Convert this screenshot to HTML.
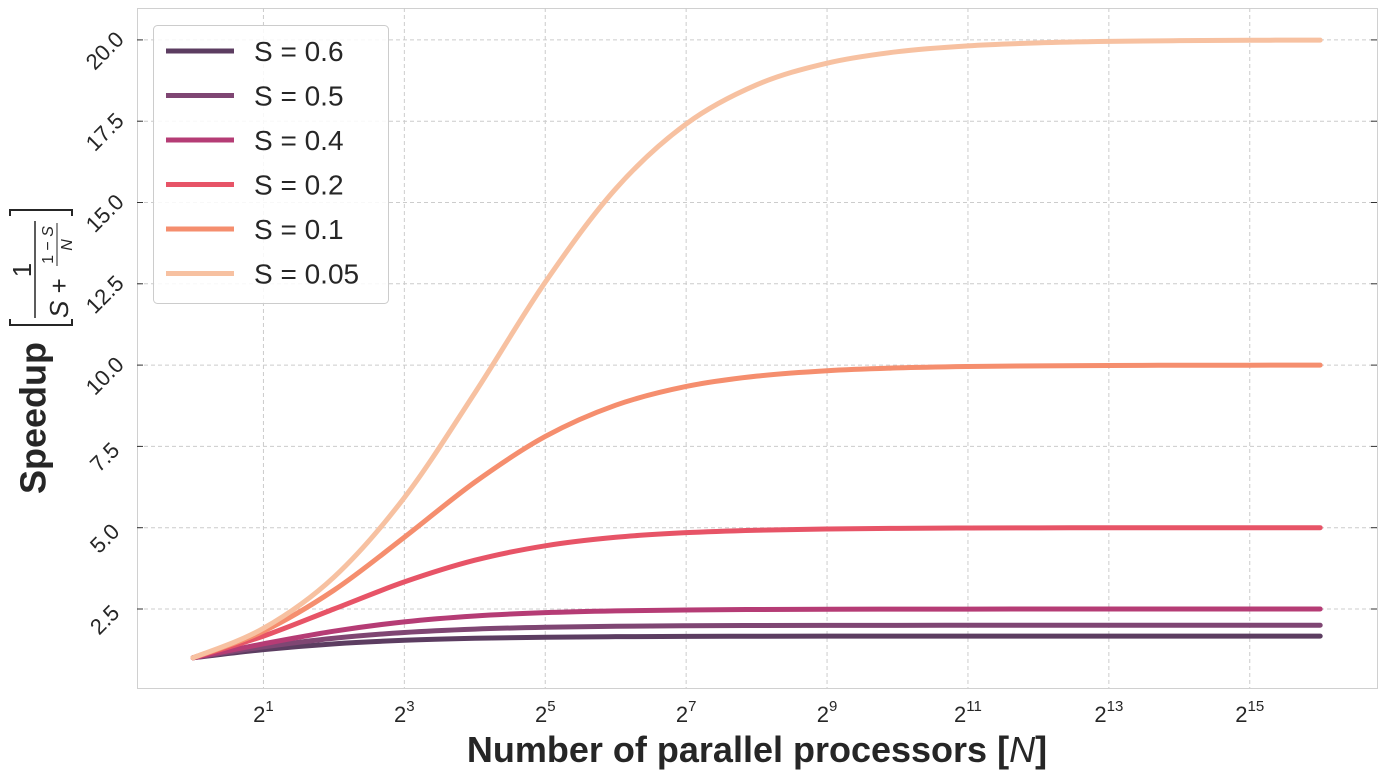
<!DOCTYPE html>
<html><head><meta charset="utf-8"><style>
body{margin:0;background:#fff;font-family:"Liberation Sans",sans-serif}
svg{display:block}
</style></head><body>
<svg id="chart" width="1387" height="780" xmlns="http://www.w3.org/2000/svg" font-family="Liberation Sans, DejaVu Sans, sans-serif">
<rect x="137.5" y="8.5" width="1240" height="680" fill="#fff" stroke="#d0d0d0"/>
<g id="grid"></g><g id="ticks"></g><g id="lines"></g>
<text x="757" y="762" text-anchor="middle" font-size="36" font-weight="bold" fill="#262626">Number of parallel processors [<tspan font-style="italic" font-weight="normal">N</tspan>]</text>
<g fill="#262626">
<text transform="translate(33,494) rotate(-90)" font-size="36" font-weight="bold" dominant-baseline="central">Speedup</text>
<path d="M10,319 L10,325 L72,325 L72,319 M10,216 L10,210 L72,210 L72,216" fill="none" stroke="#262626" stroke-width="2"/>
<text transform="translate(31,270) rotate(-90)" font-size="26" text-anchor="middle">1</text>
<line x1="35" y1="318" x2="35" y2="221" stroke="#262626" stroke-width="1.5"/>
<text transform="translate(68,318) rotate(-90)" font-size="26"><tspan font-style="italic">S</tspan> +</text>
<text transform="translate(53,245) rotate(-90)" font-size="16" text-anchor="middle">1 − <tspan font-style="italic">S</tspan></text>
<line x1="57" y1="266" x2="57" y2="223" stroke="#262626" stroke-width="1"/>
<text transform="translate(72,245) rotate(-90)" font-size="16" text-anchor="middle" font-style="italic">N</text>
</g>
<g id="legend">
<rect x="153.5" y="25.5" width="235" height="278" rx="4" fill="#fff" fill-opacity="0.85" stroke="#ccc"/>
</g>
</svg>
<script>
const exps=[0,1,2,3,4,5,6,7,8,9,10,11,12,13,14,15,16];
const labels=["S = 0.6","S = 0.5","S = 0.4","S = 0.2","S = 0.1","S = 0.05"];
const colors=["#5c3d61","#7f4673","#b53c75","#e75467","#f58e6e","#f7c1a1"];
const s06=[1,1.25,1.429,1.538,1.6,1.633,1.649,1.658,1.662,1.665,1.666,1.666,1.667,1.667,1.667,1.667,1.667];
const s05=[1,1.333,1.6,1.778,1.882,1.939,1.969,1.984,1.992,1.996,1.998,1.999,2,2,2,2,2];
const s04=[1,1.429,1.818,2.105,2.286,2.388,2.443,2.471,2.485,2.493,2.496,2.498,2.499,2.5,2.5,2.5,2.5];
const s02=[1,1.667,2.5,3.333,4,4.444,4.706,4.848,4.923,4.961,4.981,4.99,4.995,4.998,4.999,4.999,5];
const s01=[1,1.818,3.077,4.706,6.4,7.805,8.767,9.343,9.66,9.827,9.913,9.956,9.978,9.989,9.995,9.997,9.999];
const s005=[1,1.905,3.478,5.926,9.143,12.549,15.422,17.415,18.618,19.284,19.637,19.817,19.908,19.954,19.977,19.989,19.994];
const yTicks=[2.5,5,7.5,10,12.5,15,17.5,20];
const yTickLabels=["2.5","5.0","7.5","10.0","12.5","15.0","17.5","20.0"];
const xTicks=[1,3,5,7,9,11,13,15];
const series=[s06,s05,s04,s02,s01,s005];
const NS="http://www.w3.org/2000/svg";
const X=e=>193+e*70.45, Y=v=>609-(v-2.5)*32.52;
function mk(t,a,p){const el=document.createElementNS(NS,t);for(const k in a)el.setAttribute(k,a[k]);p.appendChild(el);return el;}
const grid=document.getElementById('grid'),ticks=document.getElementById('ticks'),lines=document.getElementById('lines'),leg=document.getElementById('legend');
yTicks.forEach((v,i)=>{const y=Y(v);
 const g=mk('line',{x1:137,x2:1377,y1:y,y2:y,stroke:'#cccccc','stroke-dasharray':'4,3'},grid);
 
 
 mk('line',{x1:137,x2:143,y1:y,y2:y,stroke:'#333'},ticks);
 mk('line',{x1:1371,x2:1377,y1:y,y2:y,stroke:'#333'},ticks);
 const t=mk('text',{x:0,y:0,'font-size':22,fill:'#262626','text-anchor':'middle',transform:`translate(110,${y+16}) rotate(-45)`},ticks);
 t.textContent=yTickLabels[i];
 
 
});
xTicks.forEach(e=>{const x=X(e);
 const g=mk('line',{x1:x,x2:x,y1:8,y2:688,stroke:'#cccccc','stroke-dasharray':'4,3'},grid);
 
 
 const t=mk('text',{x:x,y:722,'font-size':22,fill:'#262626','text-anchor':'middle'},ticks);
 t.innerHTML='2<tspan dy="-11" font-size="15">'+e+'</tspan>';
 
 
});
function path(vals){const p=vals.map((v,i)=>[X(exps[i]),Y(v)]);let d='M'+p[0][0]+','+p[0][1];
 for(let i=0;i<p.length-1;i++){const p0=p[i-1]||p[i],p1=p[i],p2=p[i+1],p3=p[i+2]||p2;
  d+=` C${p1[0]+(p2[0]-p0[0])/6},${p1[1]+(p2[1]-p0[1])/6} ${p2[0]-(p3[0]-p1[0])/6},${p2[1]-(p3[1]-p1[1])/6} ${p2[0]},${p2[1]}`;}
 return d;}
series.forEach((s,i)=>{
 const l=mk('path',{d:path(s),fill:'none',stroke:colors[i],'stroke-width':5,'stroke-linecap':'round'},lines);
 
 
 const y=51+i*44.5;
 const ls=mk('line',{x1:166,x2:234,y1:y,y2:y,stroke:colors[i],'stroke-width':5},leg);
 
 
 const t=mk('text',{x:254,y:y+10,'font-size':28,fill:'#262626'},leg);
 t.textContent=labels[i];
 
 
});
</script>
</body></html>
